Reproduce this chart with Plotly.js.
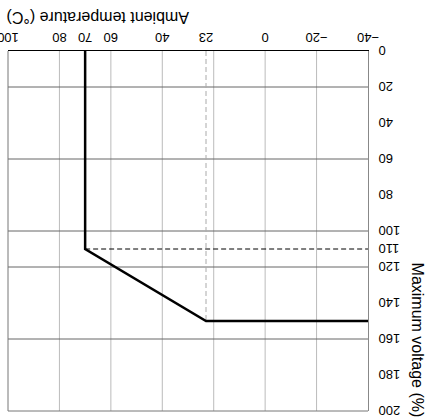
<!DOCTYPE html>
<html>
<head>
<meta charset="utf-8">
<script src="https://cdn.plot.ly/plotly-3.0.1.min.js"></script>
<style>
  html, body { margin: 0; padding: 0; background: #fff; }
  #chart { width: 429px; height: 418px; transform: rotate(180deg); }
</style>
</head>
<body>
<div id="chart"></div>
<script>
// Derating curve: ambient temperature (°C) vs maximum voltage (%)
const curveTemp = [-40, 23, 70, 70];
const curveVolt = [150, 150, 110, 0];

// Reference (dashed) lines
const refHTemp = [70, -40];
const refHVolt = [110, 110];
const refVTemp = [23, 23];
const refVVolt = [0, 150];

// Axis ticks
const xTickVals = [-40, -20, 0, 23, 40, 60, 70, 80, 100];
const xTickText = ['\u221240', '\u221220', '0', '23', '40', '60', '70', '80', '100'];
const yTickVals = [0, 20, 40, 60, 80, 100, 110, 120, 140, 160, 180, 200];
const yTickText = ['0', '20', '40', '60', '80', '100', '110', '120', '140', '160', '180', '200'];

// Grid lines
const xGrid = [-20, 0, 20, 40, 60, 80];
const yGrid = [20, 60, 100, 120, 160];

const shapes = [];
xGrid.forEach(v => shapes.push({type: 'line', xref: 'x', yref: 'paper', x0: v, x1: v, y0: 0, y1: 1,
  line: {color: '#bbbbbb', width: 1}, layer: 'below'}));
yGrid.forEach(v => shapes.push({type: 'line', xref: 'paper', yref: 'y', x0: 0, x1: 1, y0: v, y1: v,
  line: {color: '#666666', width: 1}, layer: 'below'}));
// top and right borders
shapes.push({type: 'line', xref: 'paper', yref: 'paper', x0: 0, x1: 1, y0: 1, y1: 1, line: {color: '#777777', width: 1}});
shapes.push({type: 'line', xref: 'paper', yref: 'paper', x0: 1, x1: 1, y0: 0, y1: 1, line: {color: '#777777', width: 1}});

const tickFont = {family: '"Liberation Sans Narrow", "Arial Narrow", "Liberation Sans", Arial, sans-serif', size: 13, color: '#000'};
const titleFont = {family: '"Liberation Sans", Arial, sans-serif', size: 16, color: '#000'};

const traces = [
  {x: refVTemp, y: refVVolt, mode: 'lines', line: {color: '#aaaaaa', width: 1, dash: '5px,3px'}, hoverinfo: 'skip'},
  {x: refHTemp, y: refHVolt, mode: 'lines', line: {color: '#000000', width: 1, dash: '5px,3px'}, hoverinfo: 'skip'},
  {x: curveTemp, y: curveVolt, mode: 'lines', line: {color: '#000000', width: 2.5}}
];

const layout = {
  width: 429, height: 418,
  margin: {l: 61, r: 8, t: 7, b: 51},
  paper_bgcolor: '#fff', plot_bgcolor: '#fff',
  showlegend: false,
  xaxis: {
    range: [-40, 100], tickmode: 'array', tickvals: xTickVals, ticktext: xTickText,
    showgrid: false, zeroline: false, showline: true, linecolor: '#000', linewidth: 1,
    ticks: 'outside', ticklen: 1, tickcolor: 'rgba(0,0,0,0)', tickfont: tickFont, fixedrange: true,
    ticklabeloverflow: 'allow'
  },
  yaxis: {
    range: [0, 200], tickmode: 'array', tickvals: yTickVals, ticktext: yTickText,
    showgrid: false, zeroline: false, showline: true, linecolor: '#888', linewidth: 1,
    ticks: 'outside', ticklen: 7, tickcolor: 'rgba(0,0,0,0)', tickfont: tickFont, fixedrange: true,
    ticklabeloverflow: 'allow'
  },
  shapes: shapes,
  annotations: [
    {text: 'Ambient temperature (\u00b0C)', xref: 'paper', yref: 'paper', x: 1.008, y: -0.094,
     xanchor: 'right', yanchor: 'middle', showarrow: false, font: titleFont},
    {text: 'Maximum voltage (%)', xref: 'paper', yref: 'paper', x: -0.1375, y: 0.803,
     xanchor: 'center', yanchor: 'middle', textangle: -90, showarrow: false, font: titleFont}
  ]
};

Plotly.newPlot('chart', traces, layout, {displayModeBar: false, staticPlot: true});
</script>
</body>
</html>
